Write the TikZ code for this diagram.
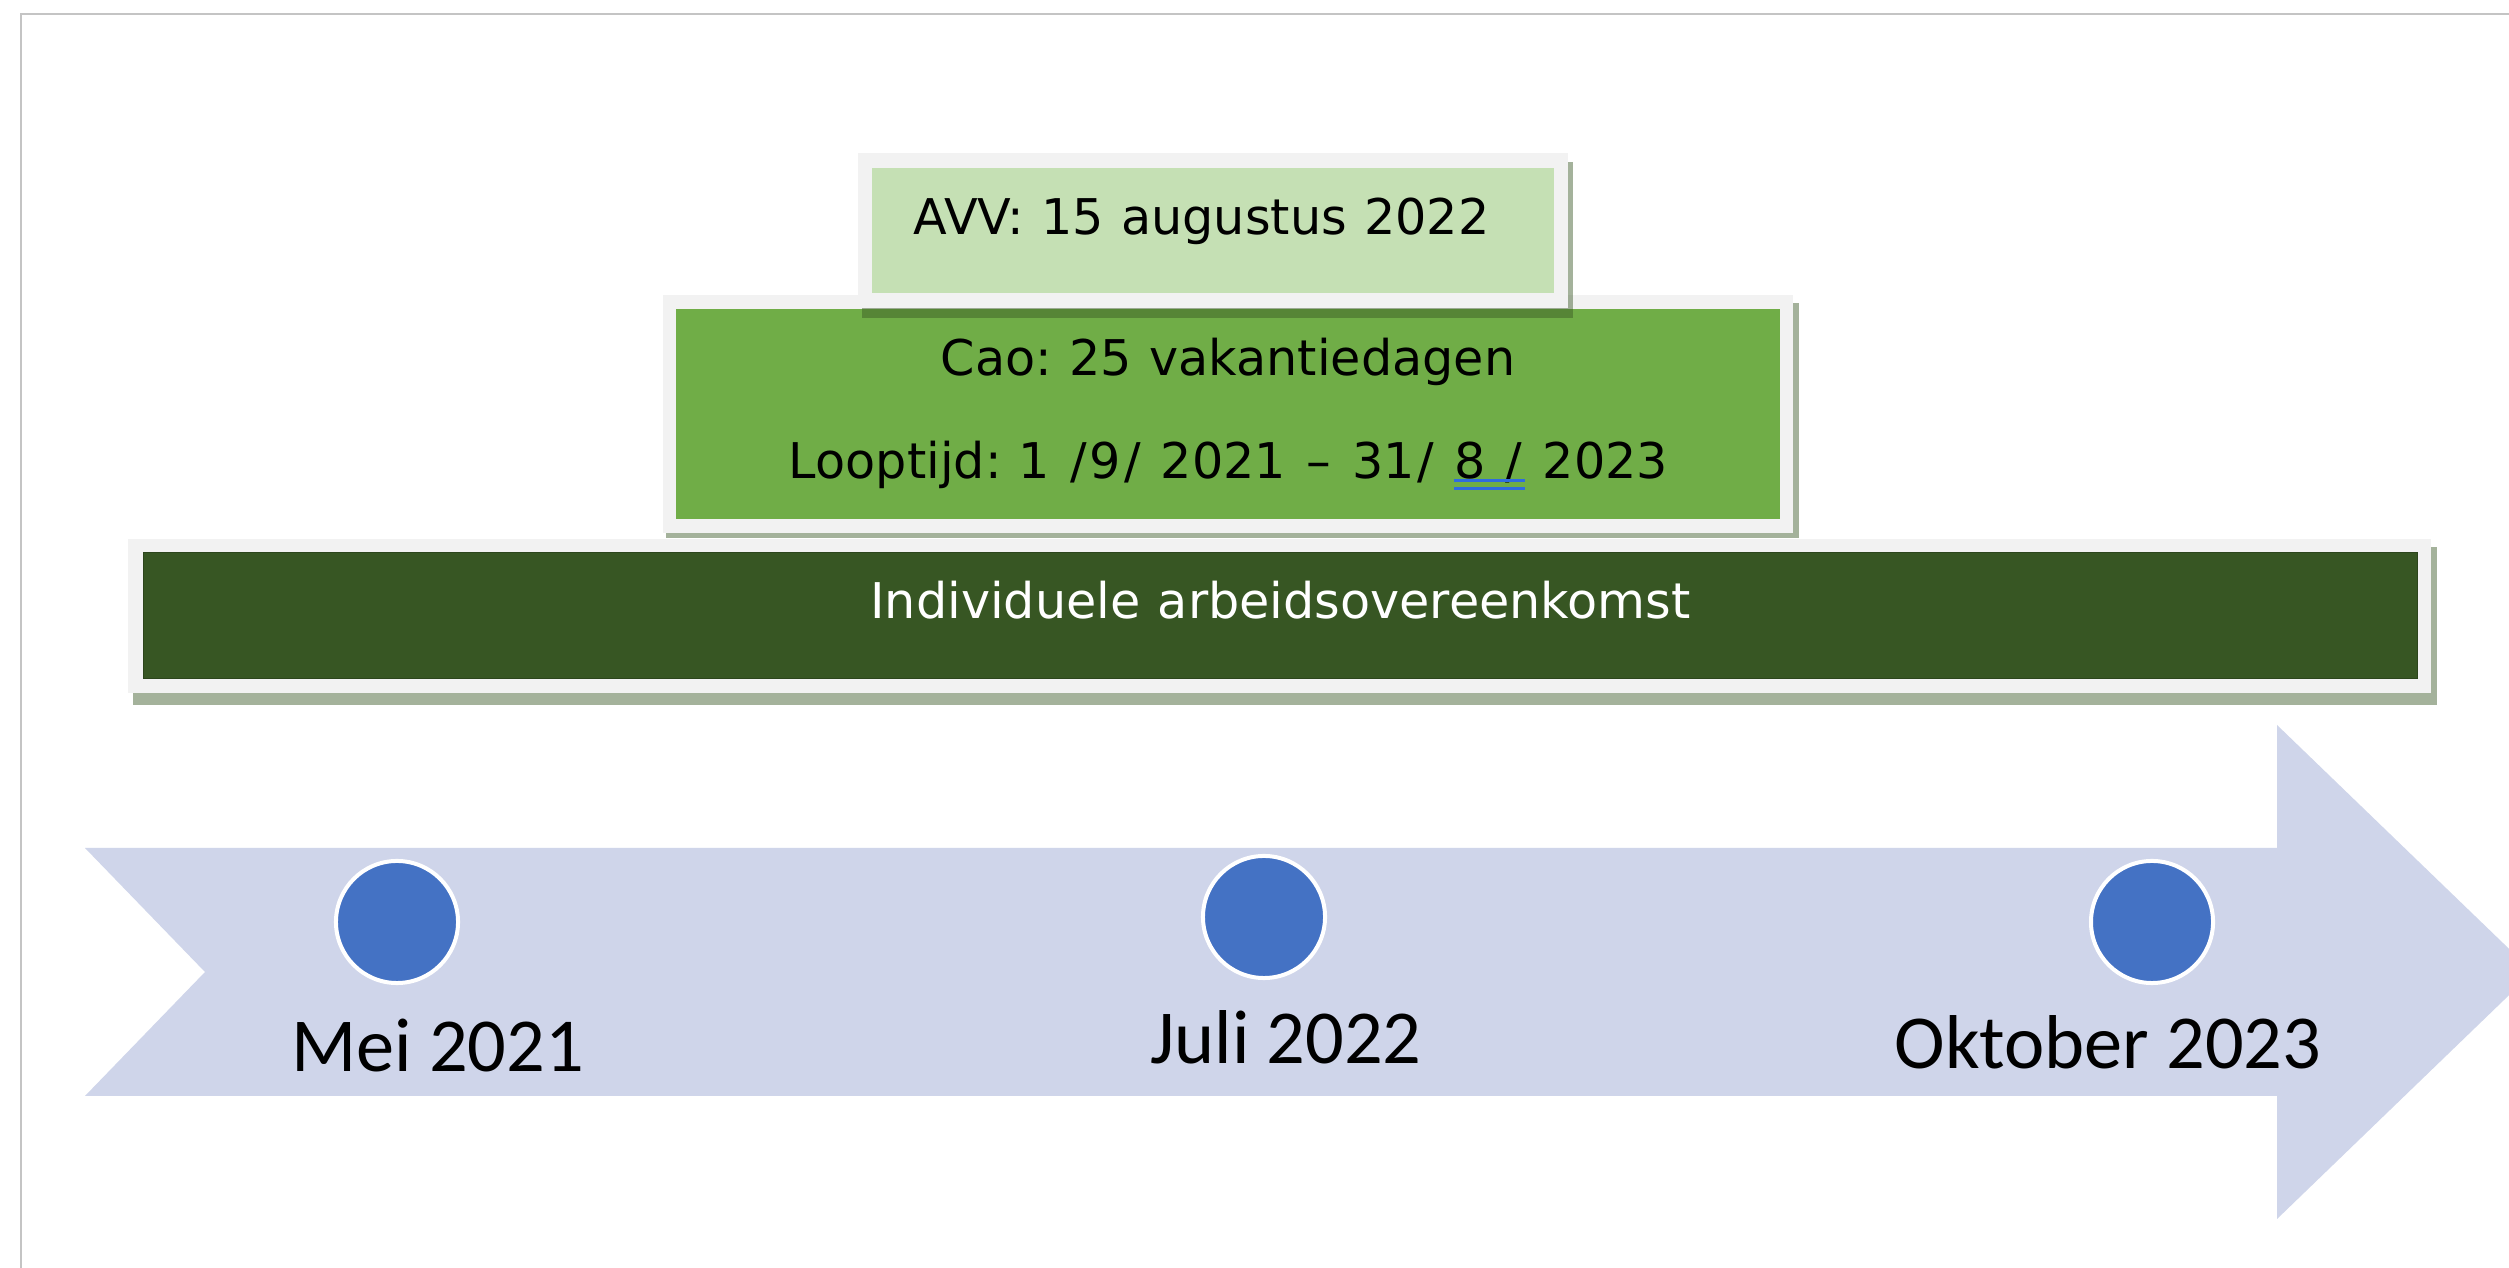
\documentclass[tikz,border=0pt]{standalone}
\usepackage{fontspec}
\setmainfont{DejaVu Sans}[WordSpace=1.107]
\newfontfamily\labelfont{Carlito}
\frenchspacing
\definecolor{avvgreen}{HTML}{C5E0B4}
\definecolor{caogreen}{HTML}{70AD47}
\definecolor{darkgreen}{HTML}{375623}
\definecolor{framegrey}{HTML}{F2F2F2}
\definecolor{arrowfill}{HTML}{CFD5EA}
\definecolor{dotblue}{HTML}{4472C4}
\definecolor{ulblue}{HTML}{2F6BE0}
\definecolor{pageline}{HTML}{C4C4C4}
\newsavebox\ulbox
\newcommand\dblul[1]{\sbox\ulbox{#1}\rlap{\usebox\ulbox}\rlap{\textcolor{ulblue}{\rule[-0.065em]{\wd\ulbox}{0.06em}}}\textcolor{ulblue}{\rule[-0.22em]{\wd\ulbox}{0.06em}}}
\newcommand\vsl{\kern0.0585em/\kern0.0585em}
\newcommand\vdsh{\kern0.068em–\kern0.068em}
\tikzset{
  boxtext/.style={anchor=base, inner sep=0pt, font=\fontsize{14}{16.8}\selectfont},
  datelabel/.style={anchor=base, inner sep=0pt, font=\labelfont\fontsize{21.7}{26}\selectfont},
  dot/.style={circle, fill=dotblue, draw=white, line width=0.04cm, minimum size=1.22cm, inner sep=0pt},
  boxshadow/.style={fill=darkgreen, opacity=0.45},
  boxframe/.style={fill=framegrey},
}
\begin{document}
\begin{tikzpicture}[x=0.01cm, y=-0.01cm]
\useasboundingbox (0,0) rectangle (2509,1268);
\clip (0,0) rectangle (2509,1268);
\fill[white] (0,0) rectangle (2509,1268);
% page edge
\draw[pageline, line width=0.02cm] (21,1268) -- (21,14) -- (2509,14);
% individual contract box
\fill[boxshadow] (133,547) rectangle (2437,705);
\fill[boxframe] (128,539) rectangle (2431,693);
\fill[darkgreen, draw=darkgreen!80!black, line width=0.01cm] (143,553) rectangle (2417,679);
% cao box
\fill[boxshadow] (666,303) rectangle (1799,538);
\fill[boxframe] (663,295) rectangle (1793,533);
\fill[caogreen] (676,309) rectangle (1780,519);
% avv box
\fill[boxshadow] (862,162) rectangle (1573,318);
\fill[boxframe] (858,153) rectangle (1568,308);
\fill[avvgreen] (872,168) rectangle (1554,293);
% texts
\node[boxtext] (avv) at (1201.5,235) {AVV: 15 augustus 2022};
\node[boxtext] (cao1) at (1228,376) {Cao: 25 vakantiedagen};
\node[boxtext] (cao2) at (1228.5,479) {Looptijd: 1 \vsl9\vsl{} 2021 \vdsh{} 31\vsl{} \dblul{8 \vsl}\ 2023};
\node[boxtext, text=white] (ind) at (1280.5,619) {Individuele arbeidsovereenkomst};
% timeline arrow
\fill[arrowfill] (85,848) -- (2277,848) -- (2277,725) -- (2533,972) -- (2277,1219)
  -- (2277,1096) -- (85,1096) -- (205,972) -- cycle;
\node[dot] (d1) at (397,922) {};
\node[dot] (d2) at (1264,917) {};
\node[dot] (d3) at (2152,922) {};
\node[datelabel] (l1) at (437.5,1072) {Mei 2021};
\node[datelabel] (l2) at (1286,1064) {Juli 2022};
\node[datelabel] (l3) at (2108,1069) {Oktober 2023};
\end{tikzpicture}
\end{document}
